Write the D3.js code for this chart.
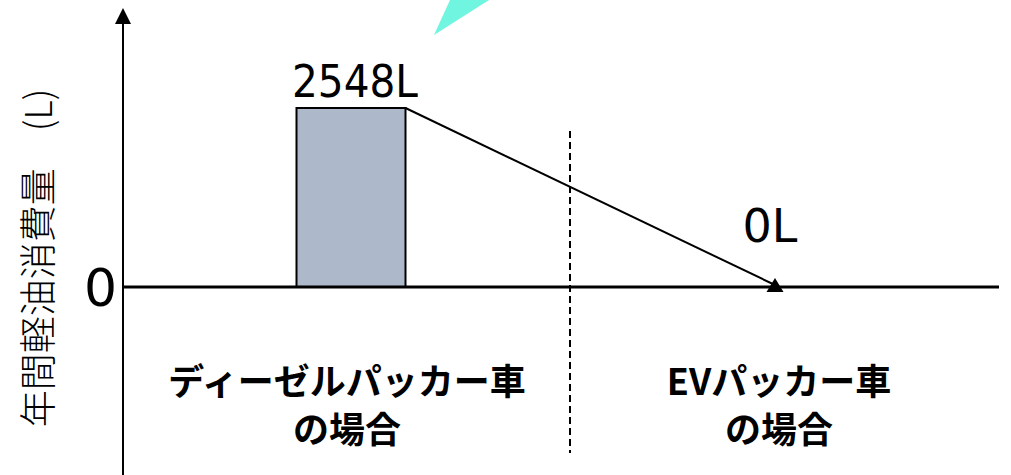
<!DOCTYPE html>
<html>
<head>
<meta charset="utf-8">
<script src="https://cdn.jsdelivr.net/npm/d3@7"></script>
<style>
  html, body { margin: 0; padding: 0; background: #fff; }
  svg { display: block; }
  .num { font-family: "DejaVu Sans", sans-serif; fill: #000; }
  .cat { font-family: "Noto Sans CJK JP", sans-serif; font-weight: 700; fill: #000; }
  .ylab { font-family: "Noto Sans CJK JP", sans-serif; font-weight: 300; fill: #000; }
</style>
</head>
<body>
<script>
// Annual diesel consumption: diesel packer truck vs EV packer truck
const categories = ["diesel", "ev"];
const categoryLines = [["ディーゼルパッカー車", "の場合"], ["EVパッカー車", "の場合"]];
const consumption = [2548, 0];
const valueLabels = ["2548L", "0L"];
const yTicks = [0];
const yTitle = "年間軽油消費量　(L)";

const W = 1011, H = 475;
const svg = d3.select("body").append("svg").attr("width", W).attr("height", H);

const x = d3.scaleBand().domain(categories).range([135, 999]);
const y = d3.scaleLinear().domain([0, 2548]).range([287, 108]);
const barW = 109;
const axisX = 123;

// decorative cyan shape at the top edge
svg.append("polygon")
  .attr("points", "450,0 489,0 434,35")
  .attr("fill", "#6ff5e0");

// bar for the diesel truck
const diesel = categories[0];
const cx0 = x(diesel) + x.bandwidth() / 2;
svg.append("rect")
  .attr("x", cx0 - barW / 2)
  .attr("y", y(consumption[0]))
  .attr("width", barW)
  .attr("height", y(0) - y(consumption[0]))
  .attr("fill", "#adb9ca")
  .attr("stroke", "#000")
  .attr("stroke-width", 2);

// divider between the two cases
const divX = x(categories[1]) + 3;
svg.append("line")
  .attr("x1", divX).attr("x2", divX)
  .attr("y1", 131).attr("y2", 453)
  .attr("stroke", "#000").attr("stroke-width", 2)
  .attr("stroke-dasharray", "7,4");

// baseline at zero
svg.append("line")
  .attr("x1", axisX).attr("x2", 999)
  .attr("y1", y(0)).attr("y2", y(0))
  .attr("stroke", "#000").attr("stroke-width", 3);

// reduction line from the diesel bar to the EV value
const cx1 = x(categories[1]) + x.bandwidth() / 2 - 8;
svg.append("line")
  .attr("x1", cx0 + barW / 2).attr("y1", y(consumption[0]))
  .attr("x2", cx1).attr("y2", y(consumption[1]) - 2)
  .attr("stroke", "#000").attr("stroke-width", 2);
svg.append("polygon")
  .attr("points", [[cx1, y(consumption[1]) - 9], [cx1 - 8.5, y(consumption[1]) + 5], [cx1 + 8.5, y(consumption[1]) + 5]].map(p => p.join(",")).join(" "))
  .attr("fill", "#000");

// y axis with arrow head
svg.append("line")
  .attr("x1", axisX).attr("x2", axisX)
  .attr("y1", 22).attr("y2", H)
  .attr("stroke", "#000").attr("stroke-width", 2);
svg.append("polygon")
  .attr("points", `${axisX},8 ${axisX - 8},24 ${axisX + 8},24`)
  .attr("fill", "#000");

// zero tick label
svg.selectAll("text.tick").data(yTicks).join("text")
  .attr("class", "num tick")
  .attr("x", 117)
  .attr("y", d => y(d))
  .attr("dy", "0.36em")
  .attr("text-anchor", "end")
  .attr("font-size", 52)
  .text(d => d);

// value labels
svg.append("text").attr("class", "num")
  .attr("x", cx0 + 4).attr("y", 97)
  .attr("text-anchor", "middle").attr("font-size", 44)
  .attr("textLength", 126).attr("lengthAdjust", "spacingAndGlyphs")
  .text(valueLabels[0]);
svg.append("text").attr("class", "num")
  .attr("x", cx1 - 5).attr("y", 242)
  .attr("text-anchor", "middle").attr("font-size", 46)
  .text(valueLabels[1]);

// category labels
categories.forEach((c, i) => {
  const t = svg.append("text").attr("class", "cat")
    .attr("text-anchor", "middle").attr("font-size", 36);
  categoryLines[i].forEach((line, j) => {
    t.append("tspan")
      .attr("x", x(c) + x.bandwidth() / 2 - 4)
      .attr("y", 395 + j * 48)
      .text(line);
  });
});

// y axis title
svg.append("text").attr("class", "ylab")
  .attr("transform", "translate(52,258) rotate(-90)")
  .attr("text-anchor", "middle")
  .attr("font-size", 37)
  .text(yTitle);
</script>
</body>
</html>
